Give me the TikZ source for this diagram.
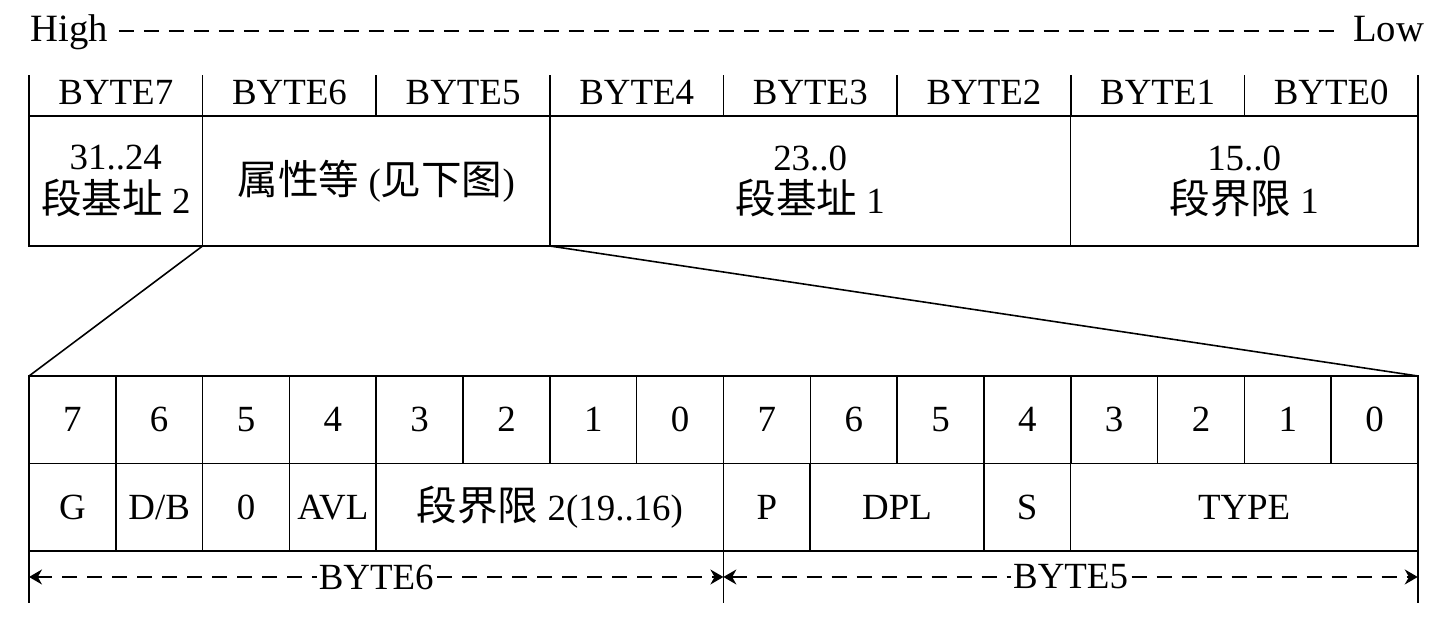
\documentclass[tikz,border=0pt]{standalone}
\usepackage{fontspec}
\setmainfont{Liberation Serif}
\newfontfamily\cjk[Scale=1.1]{Noto Sans CJK SC}
\usetikzlibrary{positioning,arrows.meta}

\begin{document}
\begin{tikzpicture}[
    x=0.02cm, y=-0.02cm,
    font=\fontsize{21}{24.5}\selectfont,
    line width=0.9pt,
    field/.style={
        draw, inner sep=0pt, outer sep=0pt,
        minimum height=2.6cm, align=center
    },
    bitbox/.style={
        draw, inner sep=0pt, outer sep=0pt,
        minimum width=1.73625cm, minimum height=1.75cm
    },
    hyphen/.style={dash pattern=on 0.3cm off 0.2cm},
    span/.style={{Stealth[length=2.6mm,width=3mm]}-{Stealth[length=2.6mm,width=3mm]}, hyphen},
    lbl/.style={fill=white, inner sep=1pt}
]
\useasboundingbox (0,0) rectangle (1435,626);

% significance
\node[anchor=base west, inner sep=0pt, font=\fontsize{22}{26}\selectfont] (high) at (30,41) {High};
\node[anchor=base east, inner sep=0pt, font=\fontsize{22}{26}\selectfont] (low) at (1425,41) {Low};
\draw[hyphen] ([xshift=2mm]high.east |- 0,31) -- ([xshift=-2mm]low.west |- 0,31);

% byte header
\foreach \i/\b in {0/7,1/6,2/5,3/4,4/3,5/2,6/1,7/0}
    \node[anchor=base] (byte\b) at ({29+(\i+0.5)*173.625},104) {BYTE\b};
\foreach \i in {0,...,8}
    \draw ({29+\i*173.625},75) -- ({29+\i*173.625},116);

% descriptor fields
\node[field, minimum width=3.4725cm] (base2) at (115.8,181) {31..24\\{\cjk 段基址} 2};
\node[field, minimum width=6.945cm, right=0pt of base2] (attr) {{\cjk 属性等} ({\cjk 见下图})};
\node[field, minimum width=10.4175cm, right=0pt of attr] (base1) {23..0\\{\cjk 段基址} 1};
\node[field, minimum width=6.945cm, right=0pt of base1] (limit1) {15..0\\{\cjk 段界限} 1};

% bit numbers
\foreach \i in {0,...,15} {
    \pgfmathtruncatemacro\d{mod(15-\i,8)}
    \node[bitbox] (bit\i) at ({29+(\i+0.5)*86.8125},419.75) {\d};
}

% attribute fields
\node[bitbox, below=0pt of bit0] (g) {G};
\node[bitbox, right=0pt of g] (db) {D/B};
\node[bitbox, right=0pt of db] (zero) {0};
\node[bitbox, right=0pt of zero] (avl) {AVL};
\node[bitbox, minimum width=6.945cm, right=0pt of avl] (limit2) {{\cjk 段界限} 2(19..16)};
\node[bitbox, right=0pt of limit2] (p) {P};
\node[bitbox, minimum width=3.4725cm, right=0pt of p] (dpl) {DPL};
\node[bitbox, right=0pt of dpl] (s) {S};
\node[bitbox, minimum width=6.945cm, right=0pt of s] (type) {TYPE};

% zoom lines
\draw (attr.south west) -- (bit0.north west);
\draw (attr.south east) -- (bit15.north east);

% byte spans
\draw (g.south west) -- ++(0,52);
\draw (p.south west) -- ++(0,52);
\draw (type.south east) -- ++(0,52);
\coordinate (l6) at ([yshift=-0.52cm]g.south west);
\coordinate (mid) at ([yshift=-0.52cm]p.south west);
\coordinate (r5) at ([yshift=-0.52cm]type.south east);
\draw[span] (l6) -- node[lbl] (byte6lbl) {BYTE6} (mid);
\draw[span] (mid) -- node[lbl] (byte5lbl) {BYTE5} (r5);

\end{tikzpicture}
\end{document}
